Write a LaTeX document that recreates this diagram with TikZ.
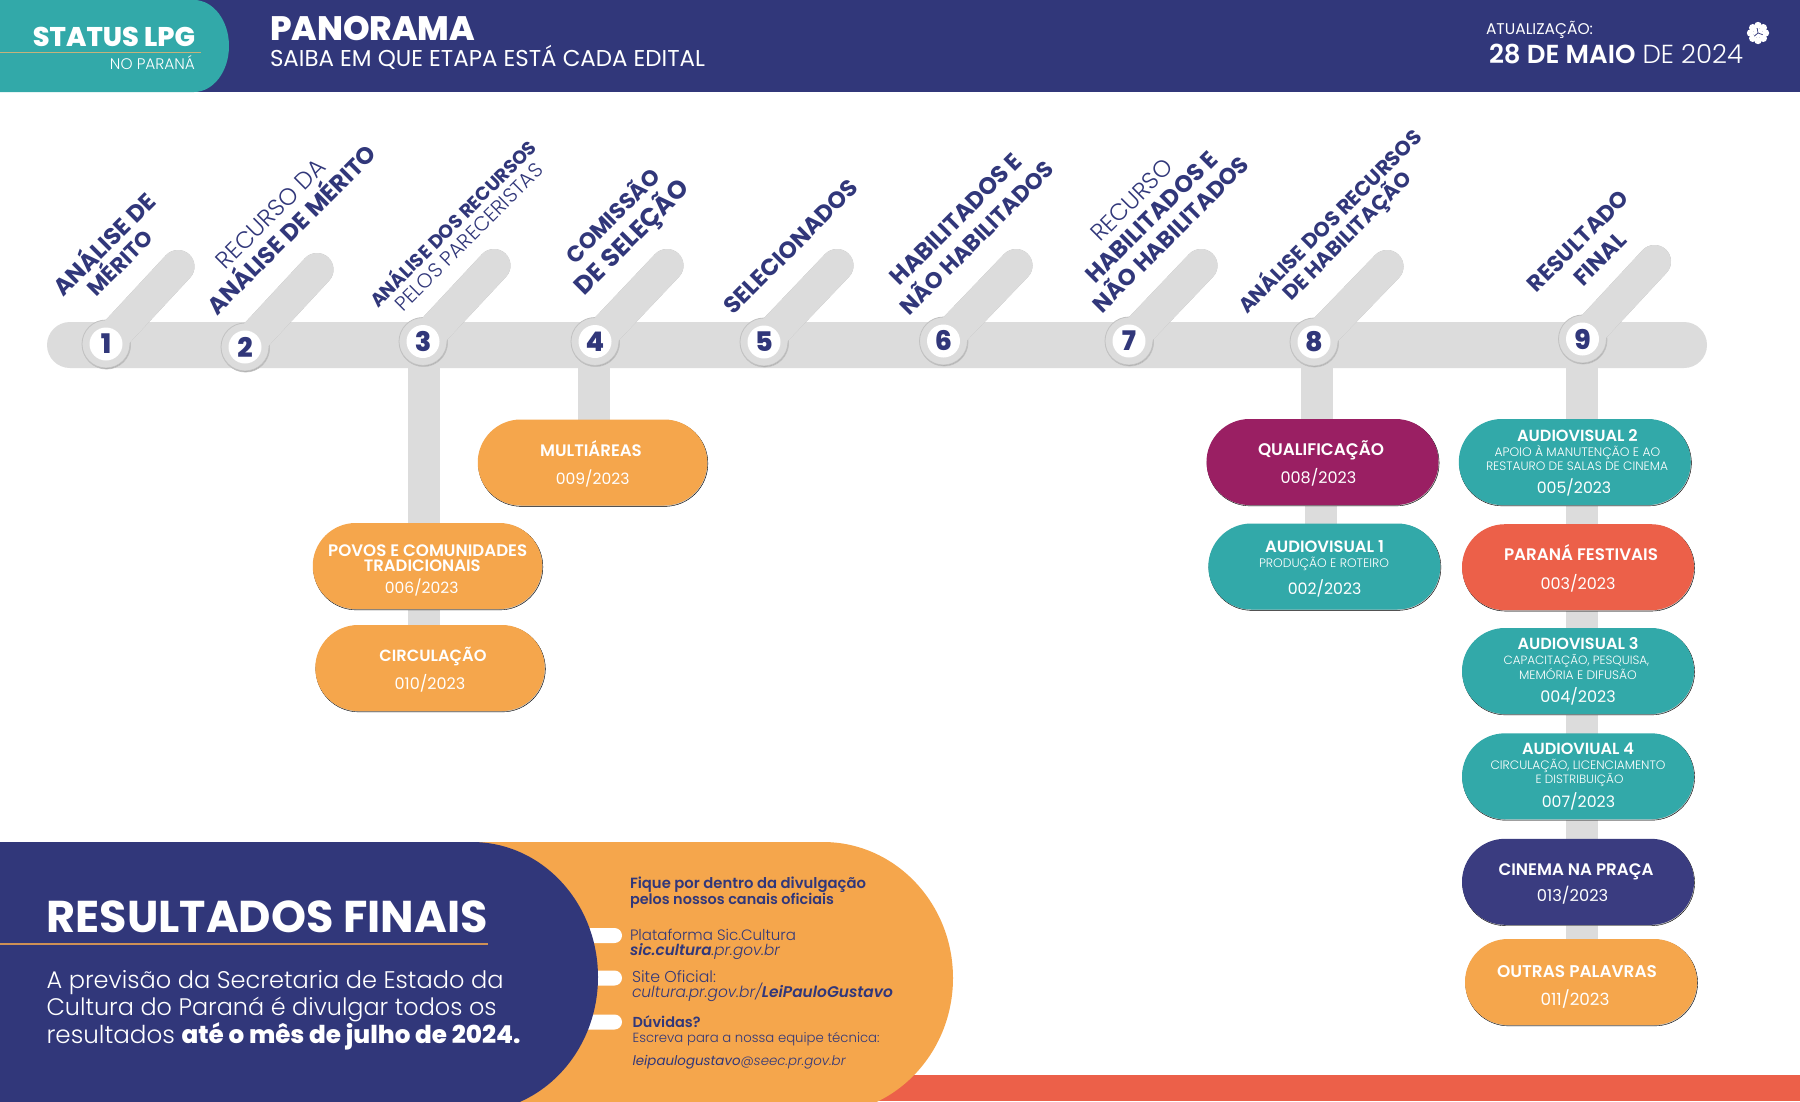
\documentclass[tikz,border=0pt]{standalone}
\usepackage{graphicx}
\usepackage{fontspec}
\setmainfont{Poppins}
\newfontfamily\lt{Poppins Light}
\newfontfamily\sm{Poppins SemiBold}
\newfontfamily\xb{Poppins ExtraBold}
\usetikzlibrary{shapes.misc,shadows,backgrounds}
\definecolor{navy}{HTML}{31377A}
\definecolor{teal2}{HTML}{32A9A9}
\definecolor{orng}{HTML}{F5A64C}
\definecolor{redd}{HTML}{EC6049}
\definecolor{purp}{HTML}{9A1F63}
\definecolor{cine}{HTML}{3A3C80}
\definecolor{bargray}{HTML}{DCDCDC}
\definecolor{tan2}{HTML}{C4B27C}
\newcommand\fw[2]{\resizebox{#1pt}{!}{\smash{\raisebox{-3.5pt}{#2}}}}
\tikzset{
  wt/.style={text=white,inner sep=0pt,outer sep=0pt},
  nv/.style={text=navy,inner sep=0pt,outer sep=0pt},
  rl/.style={nv,rotate=45},
  wl/.style={wt,anchor=west},
  nl/.style={nv,anchor=west},
  pill/.style={rounded rectangle,rounded rectangle arc length=180,minimum width=232pt,minimum height=86pt,inner sep=0pt,fill=#1,copy shadow={shadow xshift=0.6pt,shadow yshift=-0.9pt,fill=black!22}},
  conn/.style={draw=bargray,line width=32pt},
  stickshadow/.style={draw=black!30,line width=33pt,line cap=round,shift={(0.9pt,0.9pt)}},
  stick/.style={draw=bargray,line width=33pt,line cap=round},
  ring/.style={circle,fill=bargray,minimum size=48pt,inner sep=0pt,copy shadow={shadow xshift=0.5pt,shadow yshift=-1pt,fill=black!38},draw=black!24,line width=0.8pt},
  numb/.style={circle,fill=white,text=navy,minimum size=33pt,inner sep=0pt},
  barbox/.style={rounded rectangle,rounded rectangle arc length=180,fill=bargray,minimum width=1660pt,minimum height=46pt,inner sep=0pt},
  tab/.style={rounded rectangle,rounded rectangle arc length=180,fill=white,minimum width=60pt,minimum height=15pt,inner sep=0pt},
}
\begin{document}
\begin{tikzpicture}[x=1pt,y=-1pt]
\useasboundingbox (0,0) rectangle (1800,1101);
\begin{scope}[on background layer]
\fill[white] (0,0) rectangle (1800,1101);
\end{scope}
% header
\fill[navy] (0,0) rectangle (1800,92);
\fill[teal2] (0,0) -- (194,0) arc[start angle=-90,end angle=90,x radius=35,y radius=46] -- (0,92) -- cycle;
\draw[color=tan2,line width=1.4pt] (0,52.7) -- (201,52.7);
\node[wt,anchor=east] (hstatus) at (195,37) {\fw{162}{\xb STATUS LPG}};
\node[wt,anchor=east] (hparana) at (195,64) {\fw{85}{\lt NO PARANÁ}};
\node[wl] (hpan) at (270,29) {\fw{205}{\xb PANORAMA}};
\node[wl] (hsaiba) at (270,58) {\fw{435}{SAIBA EM QUE ETAPA ESTÁ CADA EDITAL}};
\node[wl] (hatu) at (1486,29) {\fw{107}{ATUALIZAÇÃO:}};
\node[wl] (hdata) at (1489,54) {\fw{254}{{\sm 28 DE MAIO} {\lt DE 2024}}};
\foreach \a in {0,45,...,315}{\fill[white] (1758,33) ++(\a:7.5) circle[radius=3.7];}
\fill[white] (1758,33) circle[radius=5];
\foreach \a in {20,140,260}{\draw[navy,line width=0.7pt] (1758,33) -- ++(\a:5);}
% timeline
\node[barbox] (bar) at (877,345) {};
\coordinate (c1) at (106,344); \coordinate (t1) at (178,266.5);
\coordinate (c2) at (245,347); \coordinate (t2) at (317,269.5);
\coordinate (c3) at (423,341.5); \coordinate (t3) at (494,265.5);
\coordinate (c4) at (595,341.5); \coordinate (t4) at (667,265.5);
\coordinate (c5) at (764,342); \coordinate (t5) at (837,265.5);
\coordinate (c6) at (943.5,341); \coordinate (t6) at (1016,265.5);
\coordinate (c7) at (1129,341); \coordinate (t7) at (1201,265.5);
\coordinate (c8) at (1314,342); \coordinate (t8) at (1387,266.5);
\coordinate (c9) at (1582.5,339); \coordinate (t9) at (1654.5,261.5);
\foreach \i in {1,...,9}{
  \draw[stickshadow] (c\i) -- (t\i);
  \node[ring] (r\i) at (c\i) {};
  \draw[stick] (c\i) -- (t\i);
  \node[numb] (m\i) at (c\i) {\fontsize{27}{27}\xb\i};
}
% rotated labels
\node[rl] (l1a) at (104.6,245) {\fw{133}{\bfseries ANÁLISE DE}};
\node[rl] (l1b) at (120.4,263) {\fw{82}{\bfseries MÉRITO}};
\node[rl] (l2a) at (270.9,214) {\fw{144}{\lt RECURSO DA}};
\node[rl] (l2b) at (292,230) {\fw{227}{\bfseries ANÁLISE DE MÉRITO}};
\node[rl] (l3a) at (453.3,224.3) {\fw{226}{\bfseries ANÁLISE DOS RECURSOS}};
\node[rl] (l3b) at (469,237) {\fw{199}{\lt PELOS PARECERISTAS}};
\node[rl] (l4a) at (613,216) {\fw{123}{\bfseries COMISSÃO}};
\node[rl] (l4b) at (631.4,236.7) {\fw{150}{\bfseries DE SELEÇÃO}};
\node[rl] (l5a) at (791,246.7) {\fw{178}{\bfseries SELECIONADOS}};
\node[rl] (l6a) at (956,219) {\fw{175}{\bfseries HABILITADOS E}};
\node[rl] (l6b) at (977,238) {\fw{206}{\bfseries NÃO HABILITADOS}};
\node[rl] (l7a) at (1131.6,200) {\fw{105}{\lt RECURSO}};
\node[rl] (l7b) at (1151.4,217) {\fw{175}{\bfseries HABILITADOS E}};
\node[rl] (l7c) at (1171,234.5) {\fw{209}{\bfseries NÃO HABILITADOS}};
\node[rl] (l8a) at (1330,221.7) {\fw{249}{\bfseries ANÁLISE DOS RECURSOS}};
\node[rl] (l8b) at (1347,236) {\fw{172}{\bfseries DE HABILITAÇÃO}};
\node[rl] (l9a) at (1578,241) {\fw{132}{\bfseries RESULTADO}};
\node[rl] (l9b) at (1600,259) {\fw{64}{\bfseries FINAL}};
% pills
\node[pill=orng,minimum width=229.5pt] (multi) at (592.5,462.5) {};
\node[pill=orng,minimum width=229.5pt] (povos) at (427.5,566) {};
\node[pill=orng,minimum width=229.5pt] (circ) at (430,668) {};
\node[pill=purp] (qual) at (1322.5,462) {};
\node[pill=teal2] (av1) at (1324.3,566.5) {};
\node[pill=teal2] (av2) at (1574.8,462) {};
\node[pill=redd] (fest) at (1578,567.2) {};
\node[pill=teal2] (av3) at (1578,671) {};
\node[pill=teal2] (av4) at (1578,776.3) {};
\node[pill=cine] (cin) at (1578,881.8) {};
\node[pill=orng] (outr) at (1581,982) {};
\begin{scope}[on background layer]
\coordinate (v3) at (424,345); \coordinate (v4) at (594,345);
\coordinate (v8) at (1317,345); \coordinate (v8b) at (1321,462); \coordinate (v9) at (1582,345);
\draw[conn] (v3) -- (v3 |- circ.center);
\draw[conn] (v4) -- (v4 |- multi.center);
\draw[conn] (v8) -- (v8 |- qual.center);
\draw[conn] (v8b) -- (v8b |- av1.center);
\draw[conn] (v9) -- (v9 |- outr.center);
\end{scope}
% pill texts
\node[wt] (tm1) at (591,451) {\fw{101.7}{\sm MULTIÁREAS}};
\node[wt] (tm2) at (592.7,479.3) {\fw{73.7}{009/2023}};
\node[wt] (tp1) at (427.7,551) {\fw{199}{\sm POVOS E COMUNIDADES}};
\node[wt] (tp2) at (422.3,566) {\fw{116.7}{\sm TRADICIONAIS}};
\node[wt] (tp3) at (421.7,588.3) {\fw{73.7}{006/2023}};
\node[wt] (tc1) at (433,656) {\fw{107}{\sm CIRCULAÇÃO}};
\node[wt] (tc2) at (430,684.3) {\fw{70.7}{010/2023}};
\node[wt] (tq1) at (1321,450) {\fw{126}{\sm QUALIFICAÇÃO}};
\node[wt] (tq2) at (1318.4,477.5) {\fw{75.8}{008/2023}};
\node[wt] (ta1) at (1324.6,546.7) {\fw{118.8}{\sm AUDIOVISUAL 1}};
\node[wt] (ta1s) at (1324,563) {\fw{130}{\lt PRODUÇÃO E ROTEIRO}};
\node[wt] (ta1n) at (1324.6,589) {\fw{73.7}{002/2023}};
\node[wt] (tb1) at (1577.4,435.4) {\fw{120.5}{\sm AUDIOVISUAL 2}};
\node[wt] (tb2) at (1577.4,451.7) {\fw{165.6}{\lt APOIO À MANUTENÇÃO E AO}};
\node[wt] (tb3) at (1577,465.8) {\fw{182}{\lt RESTAURO DE SALAS DE CINEMA}};
\node[wt] (tb4) at (1574,487.5) {\fw{74.4}{005/2023}};
\node[wt] (tf1) at (1581,555) {\fw{154}{\sm PARANÁ FESTIVAIS}};
\node[wt] (tf2) at (1578,583.5) {\fw{75}{003/2023}};
\node[wt] (td1) at (1578,643.5) {\fw{120.9}{\sm AUDIOVISUAL 3}};
\node[wt] (td2) at (1576.4,660.5) {\fw{145.7}{\lt CAPACITAÇÃO, PESQUISA,}};
\node[wt] (td3) at (1578,675) {\fw{117.8}{\lt MEMÓRIA E DIFUSÃO}};
\node[wt] (td4) at (1578,696.5) {\fw{75.4}{004/2023}};
\node[wt] (te1) at (1578,748.8) {\fw{112}{\sm AUDIOVIUAL 4}};
\node[wt] (te2) at (1578,765) {\fw{175}{\lt CIRCULAÇÃO, LICENCIAMENTO}};
\node[wt] (te3) at (1579.5,779.5) {\fw{88}{\lt E DISTRIBUIÇÃO}};
\node[wt] (te4) at (1578.4,801.5) {\fw{73.3}{007/2023}};
\node[wt] (tg1) at (1576,870) {\fw{155}{\sm CINEMA NA PRAÇA}};
\node[wt] (tg2) at (1572.6,896) {\fw{71.3}{013/2023}};
\node[wt] (th1) at (1577,972) {\fw{160}{\sm OUTRAS PALAVRAS}};
\node[wt] (th2) at (1575,999.5) {\fw{69}{011/2023}};
% bottom panel
\begin{scope}
\clip (0,0) rectangle (1800,1101);
\fill[redd] (800,1075) rectangle (1800,1101);
\fill[orng] (440,842) -- (823,842) arc[start angle=-90,end angle=90,x radius=130,y radius=136] -- (440,1114) -- cycle;
\node[tab] (tab1) at (592,935.5) {};
\node[tab] (tab2) at (592,978) {};
\node[tab] (tab3) at (592,1022) {};
\fill[navy] (0,842) -- (472,842) arc[start angle=-90,end angle=90,x radius=126,y radius=135] -- (0,1112) -- cycle;
\end{scope}
\node[wl] (rf) at (46.5,917) {\fw{441}{\bfseries RESULTADOS FINAIS}};
\draw[color=orng!80!navy,line width=1.3pt] (0,944) -- (488,944);
\node[wl] (b1) at (46.5,979.7) {\fw{457}{\lt A previsão da Secretaria de Estado da}};
\node[wl] (b2) at (46.5,1006.7) {\fw{450}{\lt Cultura do Paraná é divulgar todos os}};
\node[wl] (b3) at (46.5,1034.7) {\fw{474}{{\lt resultados} {\xb até o mês de julho de 2024.}}};
\node[nl] (o1) at (630,883) {\fw{236}{\sm Fique por dentro da divulgação}};
\node[nl] (o2) at (630,899) {\fw{204}{\sm pelos nossos canais oficiais}};
\node[nl] (o3) at (630,935) {\fw{166}{\lt Plataforma Sic.Cultura}};
\node[nl] (o4) at (630,950) {\fw{150}{\itshape\sm sic.cultura{\lt .pr.gov.br}}};
\node[nl] (o5) at (632,976.7) {\fw{84}{\lt Site Oficial:}};
\node[nl] (o6) at (632,992) {\fw{261}{\itshape{\lt cultura.pr.gov.br/}{\sm LeiPauloGustavo}}};
\node[nl] (o7) at (632.6,1022) {\fw{68}{\sm Dúvidas?}};
\node[nl] (o8) at (632.6,1037.7) {\fw{247}{\lt Escreva para a nossa equipe técnica:}};
\node[nl] (o9) at (632.6,1060.7) {\fw{213}{\itshape{\normalfont\itshape leipaulogustavo}{\lt @seec.pr.gov.br}}};
\end{tikzpicture}
\end{document}
